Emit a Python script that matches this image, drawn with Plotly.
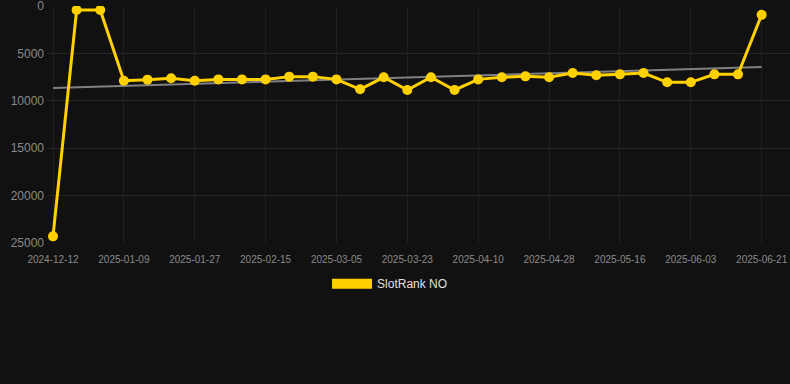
import numpy as np
import plotly.graph_objects as go

dates = [
    "2024-12-12", "2024-12-21", "2024-12-30", "2025-01-09", "2025-01-15", "2025-01-21",
    "2025-01-27", "2025-02-02", "2025-02-09", "2025-02-15", "2025-02-21", "2025-02-27",
    "2025-03-05", "2025-03-11", "2025-03-17", "2025-03-23", "2025-03-29", "2025-04-04",
    "2025-04-10", "2025-04-16", "2025-04-22", "2025-04-28", "2025-05-04", "2025-05-10",
    "2025-05-16", "2025-05-22", "2025-05-28", "2025-06-03", "2025-06-09", "2025-06-15",
    "2025-06-21",
]
ranks = [
    24300, 420, 420, 7880, 7770, 7630, 7880, 7740, 7740, 7740, 7450, 7450,
    7740, 8790, 7520, 8860, 7520, 8860, 7740, 7520, 7420, 7520, 7070, 7310,
    7210, 7070, 8050, 8050, 7210, 7210, 920,
]
tick_labels = dates[::3]
y_ticks = [0, 5000, 10000, 15000, 20000, 25000]
y_tick_text = ["0", "5000", "10000", "15000", "20000", "25000"]
series_name = "SlotRank NO"

idx = np.arange(len(ranks))
slope, intercept = np.polyfit(idx, np.array(ranks, dtype=float), 1)
trend = slope * idx + intercept

YELLOW = "#FFD100"
BG = "#111111"

fig = go.Figure()
fig.add_trace(go.Scatter(
    x=dates, y=trend, mode="lines",
    line=dict(color="#808080", width=2),
    showlegend=False, hoverinfo="skip",
))
fig.add_trace(go.Scatter(
    x=dates, y=ranks, mode="lines+markers",
    line=dict(color=YELLOW, width=3),
    marker=dict(color=YELLOW, size=10),
    showlegend=False, name=series_name,
))
# legend entry drawn as a thick swatch
fig.add_trace(go.Scatter(
    x=[None], y=[None], mode="lines",
    line=dict(color=YELLOW, width=12),
    name=series_name, showlegend=True,
))

fig.update_layout(
    width=790, height=384,
    paper_bgcolor=BG, plot_bgcolor=BG,
    margin=dict(l=47, r=0, t=6, b=141, autoexpand=False),
    font=dict(family="Liberation Sans, Arial, sans-serif", color="#8a8a8a"),
    showlegend=True,
    legend=dict(
        orientation="h", x=0.4617, xanchor="center",
        y=-0.172, yanchor="middle",
        font=dict(size=12, color="#e0e0e0"), bgcolor="rgba(0,0,0,0)",
        itemwidth=40,
    ),
    xaxis=dict(
        type="category",
        range=[-0.254, 31.2],
        tickmode="array", tickvals=tick_labels, ticktext=tick_labels,
        tickfont=dict(size=10, color="#8a8a8a"),
        ticklabelstandoff=9, tickangle=0,
        showgrid=True, gridcolor="#1f1f1f", gridwidth=1,
        zeroline=False, showline=False, ticks="",
    ),
    yaxis=dict(
        autorange=False, range=[25000, 0],
        tickmode="array", tickvals=y_ticks, ticktext=y_tick_text,
        tickfont=dict(size=12, color="#8a8a8a"),
        ticklabeloverflow="allow",
        ticklabelstandoff=2,
        showgrid=True, gridcolor="#252525", gridwidth=1,
        zeroline=False, showline=False, ticks="",
    ),
)

fig.write_html(
    "out.html",
    config={"displayModeBar": False},
    post_script="document.body.style.margin='0';document.body.style.background='#111111';",
)
